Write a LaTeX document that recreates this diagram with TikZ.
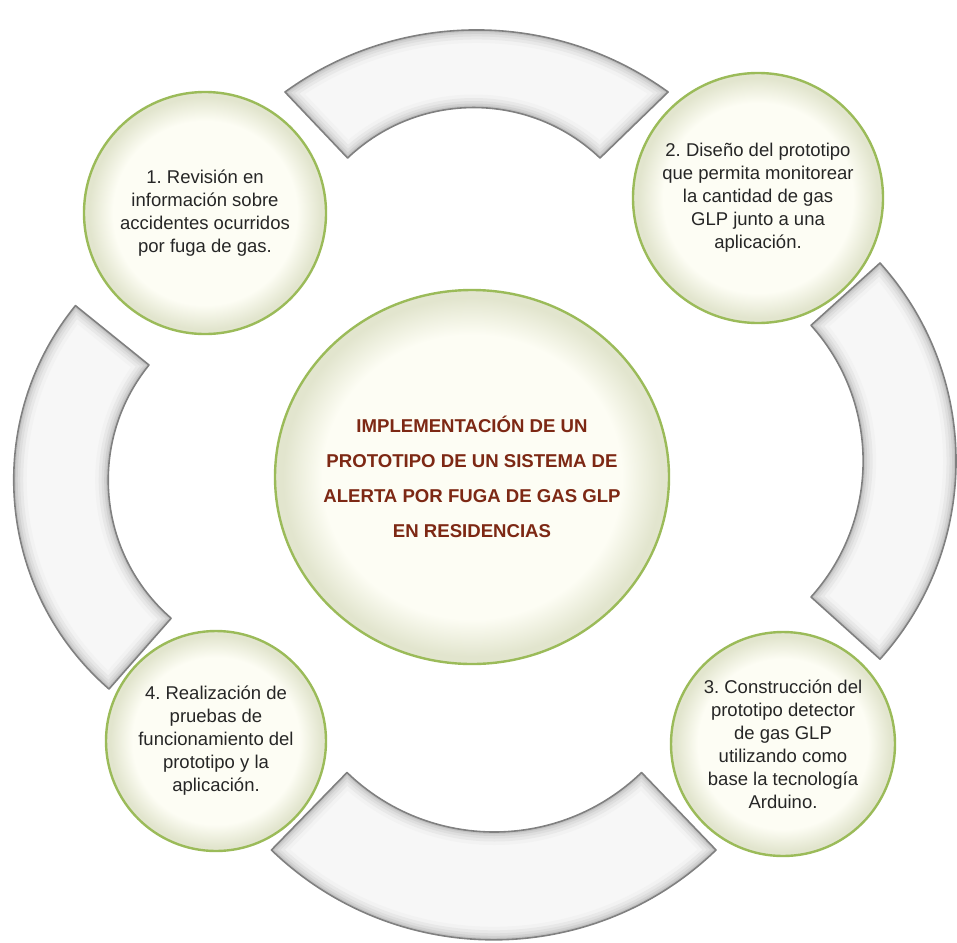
\documentclass[tikz,border=0pt]{standalone}
\usepackage{fontspec}
\setmainfont{Liberation Sans}
\usetikzlibrary{shapes.geometric}
\frenchspacing

\definecolor{leafgreen}{RGB}{155,187,89}
\definecolor{cream}{RGB}{253,253,244}
\definecolor{creamrim}{RGB}{226,229,206}
\definecolor{textgray}{RGB}{38,38,38}
\definecolor{titlered}{RGB}{125,40,20}
\definecolor{arcline}{RGB}{128,128,128}

\pgfdeclareradialshading{glow}{\pgfpoint{0bp}{0bp}}{color(0bp)=(cream); color(19bp)=(cream); color(24bp)=(creamrim); color(25bp)=(creamrim); color(50bp)=(creamrim)}

% grey block arc with a soft inner shadow; #1 is the closed outline
\newcommand{\drawband}[1]{%
    \begin{scope}
        \clip #1;
        \fill[white!97!black] #1;
        \foreach \w/\g in {26/95,19/91,13/87,8/82,4/76}
            \draw[line width=\w pt, draw=white!\g!black] #1;
    \end{scope}
    \draw[arcline, line width=1.6pt, line join=round] #1;
}

\begin{document}
\begin{tikzpicture}[x=1pt, y=-1pt,
        bubble/.style={circle, draw=leafgreen, line width=2.4pt, shading=glow, inner sep=0pt,
            align=center, text=textgray, font=\fontsize{18.5}{23}\selectfont}]
    \useasboundingbox (0,0) rectangle (957,942);

    % the four block arcs of the ring
    \drawband{(285,92) arc[start angle=-125.9, end angle=-54.1, radius=326.7] -- (600,158) arc[start angle=-46.4, end angle=-133.6, radius=183] -- cycle}
    \drawband{(880,263) arc[start angle=-42, end angle=42, radius=296] -- (811,597) arc[start angle=42, end angle=-42, radius=203] -- cycle}
    \drawband{(716,850) arc[start angle=46, end angle=134, radius=320] -- (347,772.5) arc[start angle=134, end angle=46, radius=212] -- cycle}
    \drawband{(109,689) arc[start angle=131, end angle=219, radius=277] -- (149,365) arc[start angle=219, end angle=131, radius=183] -- cycle}

    \node[bubble, ellipse, inner xsep=-15pt, minimum width=394, minimum height=374, text=titlered,
        font=\bfseries\fontsize{18.6}{35}\selectfont] (goal) at (472,477)
        {IMPLEMENTACIÓN DE UN\\PROTOTIPO DE UN SISTEMA DE\\ALERTA POR FUGA DE GAS GLP\\EN RESIDENCIAS};

    \node[bubble, minimum size=242] (review) at (205,213)
        {1. Revisión en\\información sobre\\accidentes ocurridos\\por fuga de gas.};
    \node[bubble, minimum size=250] (design) at (758,198)
        {2. Diseño del prototipo\\que permita monitorear\\la cantidad de gas\\GLP junto a una\\aplicación.};
    \node[bubble, minimum size=224] (build) at (783,744)
        {3. Construcción del\\prototipo detector\\de gas GLP\\utilizando como\\base la tecnología\\Arduino.};
    \node[bubble, minimum size=220] (tests) at (216,741)
        {4. Realización de\\pruebas de\\funcionamiento del\\prototipo y la\\aplicación.};
\end{tikzpicture}
\end{document}
